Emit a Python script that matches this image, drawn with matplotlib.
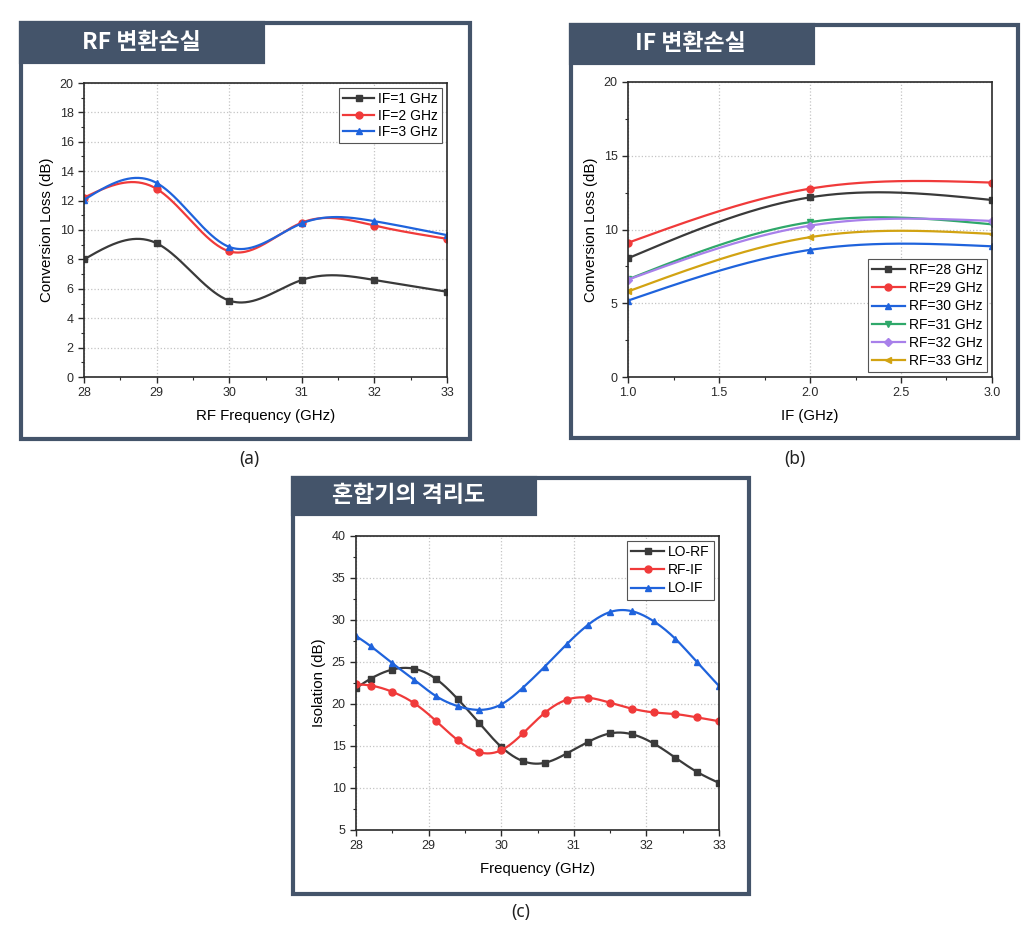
import numpy as np
import matplotlib
matplotlib.use('Agg')
import matplotlib.pyplot as plt
from matplotlib.patches import Rectangle
from matplotlib.lines import Line2D
from matplotlib.ticker import MultipleLocator, FormatStrFormatter

plt.rcParams['font.family'] = ['Liberation Sans', 'DejaVu Sans']

# ---- data -------------------------------------------------------------
rf_freq = [28, 29, 30, 31, 32, 33]
cl_if1 = [8.0, 9.1, 5.2, 6.6, 6.6, 5.8]
cl_if2 = [12.2, 12.8, 8.55, 10.5, 10.3, 9.4]
cl_if3 = [12.05, 13.2, 8.85, 10.45, 10.6, 9.65]
rf_labels = ['IF=1 GHz', 'IF=2 GHz', 'IF=3 GHz']

if_freq = [1.0, 2.0, 3.0]
cl_rf28 = [8.05, 12.18, 12.0]
cl_rf29 = [9.1, 12.77, 13.18]
cl_rf30 = [5.18, 8.62, 8.86]
cl_rf31 = [6.62, 10.5, 10.35]
cl_rf32 = [6.6, 10.26, 10.58]
cl_rf33 = [5.8, 9.48, 9.7]
if_labels = ['RF=28 GHz', 'RF=29 GHz', 'RF=30 GHz', 'RF=31 GHz', 'RF=32 GHz', 'RF=33 GHz']

iso_freq = [28.0, 28.2, 28.5, 28.8, 29.1, 29.4, 29.7, 30.0, 30.3, 30.6,
            30.9, 31.2, 31.5, 31.8, 32.1, 32.4, 32.7, 33.0]
iso_lo_rf = [21.9, 23.0, 24.1, 24.2, 23.0, 20.6, 17.7, 14.9, 13.2, 13.0,
             14.1, 15.5, 16.5, 16.4, 15.3, 13.6, 11.9, 10.6]
iso_rf_if = [22.35, 22.2, 21.45, 20.1, 18.0, 15.7, 14.25, 14.5, 16.5, 18.95,
             20.5, 20.75, 20.15, 19.45, 19.0, 18.8, 18.4, 17.95]
iso_lo_if = [28.1, 26.9, 24.85, 22.9, 20.95, 19.75, 19.3, 19.95, 21.95, 24.45,
             27.1, 29.45, 30.95, 31.05, 29.85, 27.75, 24.95, 22.15]
iso_labels = ['LO-RF', 'RF-IF', 'LO-IF']

# ---- style ------------------------------------------------------------
W, H = 1032, 927
frame_col = '#44546a'
c_black = '#3a3a3a'
c_red = '#f03a3a'
c_blue = '#1f63dc'
c_green = '#2fa86a'
c_purple = '#a880ea'
c_gold = '#d2a312'


def spline(x, y, num=300):
    # natural cubic spline through the points (smooth connect line)
    x = np.asarray(x, float)
    y = np.asarray(y, float)
    n = len(x)
    h = np.diff(x)
    A = np.zeros((n, n))
    r = np.zeros(n)
    A[0, 0] = A[-1, -1] = 1
    for i in range(1, n - 1):
        A[i, i - 1] = h[i - 1]
        A[i, i] = 2 * (h[i - 1] + h[i])
        A[i, i + 1] = h[i]
        r[i] = 3 * ((y[i + 1] - y[i]) / h[i] - (y[i] - y[i - 1]) / h[i - 1])
    c = np.linalg.solve(A, r)
    b = (y[1:] - y[:-1]) / h - h * (2 * c[:-1] + c[1:]) / 3
    d = (c[1:] - c[:-1]) / (3 * h)
    xs = np.linspace(x[0], x[-1], num)
    idx = np.clip(np.searchsorted(x, xs, side='right') - 1, 0, n - 2)
    dx = xs - x[idx]
    ys = y[idx] + b[idx] * dx + c[idx] * dx ** 2 + d[idx] * dx ** 3
    return xs, ys


fig = plt.figure(figsize=(W / 100, H / 100), dpi=100)


def panel(x0, y0, x1, y1, hx1, hy1, title, tx):
    fig.patches.append(Rectangle((x0 / W, 1 - y1 / H), (x1 - x0) / W, (y1 - y0) / H,
                                 transform=fig.transFigure, fill=False,
                                 edgecolor=frame_col, lw=3))
    fig.patches.append(Rectangle((x0 / W, 1 - hy1 / H), (hx1 - x0) / W, (hy1 - y0) / H,
                                 transform=fig.transFigure, facecolor=frame_col,
                                 edgecolor=frame_col, lw=3))
    fig.text(tx / W, 1 - (y0 + hy1) / 2 / H, title, color='white', fontsize=16.5,
             fontweight='bold', ha='left', va='center',
             family=['Noto Sans CJK KR', 'DejaVu Sans'])


def make_axes(l, t, r, b):
    ax = fig.add_axes([l / W, 1 - b / H, (r - l) / W, (b - t) / H])
    for s in ax.spines.values():
        s.set_color('#2a2a2a')
        s.set_linewidth(1.2)
    ax.tick_params(which='both', direction='out', top=False, right=False,
                   colors='#2a2a2a', labelsize=9)
    ax.tick_params(which='major', length=4, width=1)
    ax.tick_params(which='minor', length=2.5, width=0.8)
    ax.grid(True, which='major', ls=':', color='#c4c4c4', lw=0.9)
    ax.set_axisbelow(True)
    return ax


def draw(ax, x, y, col, mk, ms=5):
    xs, ys = spline(x, y)
    ax.plot(xs, ys, color=col, lw=1.6)
    ax.plot(x, y, ls='none', marker=mk, color=col, ms=ms)
    return Line2D([], [], color=col, lw=1.6, marker=mk, ms=ms)


def legend(ax, handles, labels, loc, spacing=0.3, hl=2.4):
    lg = ax.legend(handles, labels, loc=loc, fontsize=10, numpoints=1,
                   handlelength=hl, handletextpad=0.3, borderpad=0.3,
                   labelspacing=spacing, borderaxespad=0.35, fancybox=False,
                   framealpha=1, edgecolor='#555555')
    lg.get_frame().set_linewidth(0.8)


# ---- (a) RF conversion loss ------------------------------------------
panel(21, 23, 470, 439, 263, 62, 'RF 변환손실', 82)
ax1 = make_axes(84, 83, 447, 377)
h = [draw(ax1, rf_freq, cl_if1, c_black, 's'),
     draw(ax1, rf_freq, cl_if2, c_red, 'o'),
     draw(ax1, rf_freq, cl_if3, c_blue, '^')]
ax1.set_xlim(28, 33)
ax1.set_ylim(0, 20)
ax1.xaxis.set_major_locator(MultipleLocator(1))
ax1.xaxis.set_minor_locator(MultipleLocator(0.5))
ax1.yaxis.set_major_locator(MultipleLocator(2))
ax1.yaxis.set_minor_locator(MultipleLocator(1))
ax1.set_xlabel('RF Frequency (GHz)', fontsize=10.8, labelpad=7)
ax1.set_ylabel('Conversion Loss (dB)', fontsize=10.8, labelpad=4)
legend(ax1, h, rf_labels, 'upper right', spacing=0.18, hl=2.2)

# ---- (b) IF conversion loss ------------------------------------------
panel(571, 25, 1018, 438, 813, 63, 'IF 변환손실', 635)
ax2 = make_axes(628, 82, 992, 377)
series_b = [(cl_rf28, c_black, 's'), (cl_rf29, c_red, 'o'), (cl_rf30, c_blue, '^'),
            (cl_rf31, c_green, 'v'), (cl_rf32, c_purple, 'D'), (cl_rf33, c_gold, '<')]
h = []
for vals, col, mk in series_b:
    h.append(draw(ax2, if_freq, vals, col, mk, ms=5 if mk != 'D' else 4.5))
ax2.set_xlim(1.0, 3.0)
ax2.set_ylim(0, 20)
ax2.xaxis.set_major_locator(MultipleLocator(0.5))
ax2.xaxis.set_minor_locator(MultipleLocator(0.25))
ax2.yaxis.set_major_locator(MultipleLocator(5))
ax2.yaxis.set_minor_locator(MultipleLocator(2.5))
ax2.xaxis.set_major_formatter(FormatStrFormatter('%.1f'))
ax2.set_xlabel('IF (GHz)', fontsize=10.8, labelpad=7)
ax2.set_ylabel('Conversion Loss (dB)', fontsize=10.8, labelpad=4)
legend(ax2, h, if_labels, 'lower right')

# ---- (c) isolation ----------------------------------------------------
panel(293, 478, 749, 894, 535, 514, '혼합기의 격리도', 332)
ax3 = make_axes(356, 536, 719, 830)
h = [draw(ax3, iso_freq, iso_lo_rf, c_black, 's'),
     draw(ax3, iso_freq, iso_rf_if, c_red, 'o'),
     draw(ax3, iso_freq, iso_lo_if, c_blue, '^')]
ax3.set_xlim(28, 33)
ax3.set_ylim(5, 40)
ax3.xaxis.set_major_locator(MultipleLocator(1))
ax3.xaxis.set_minor_locator(MultipleLocator(0.5))
ax3.yaxis.set_major_locator(MultipleLocator(5))
ax3.yaxis.set_minor_locator(MultipleLocator(2.5))
ax3.set_xlabel('Frequency (GHz)', fontsize=10.8, labelpad=7)
ax3.set_ylabel('Isolation (dB)', fontsize=10.8, labelpad=4)
legend(ax3, h, iso_labels, 'upper right')

# ---- sub captions -----------------------------------------------------
for cap, cx, cy in [('(a)', 249, 459), ('(b)', 795, 459), ('(c)', 521, 912)]:
    fig.text(cx / W, 1 - cy / H, cap, fontsize=12.5, ha='center', va='center',
             color='#222222', family=['Noto Sans', 'DejaVu Sans'])

fig.savefig('out.png', dpi=100, facecolor='white')
